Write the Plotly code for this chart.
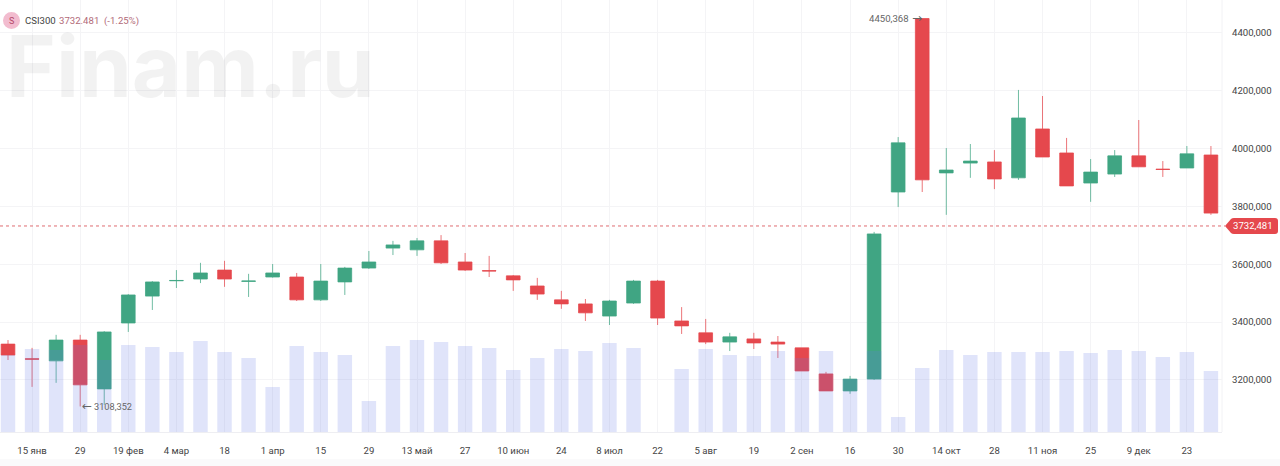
import plotly.graph_objects as go

weeks = ["2024-01-08","2024-01-15","2024-01-22","2024-01-29","2024-02-05","2024-02-19","2024-02-26","2024-03-04","2024-03-11","2024-03-18",
         "2024-03-25","2024-04-01","2024-04-08","2024-04-15","2024-04-22","2024-04-29","2024-05-06","2024-05-13","2024-05-20","2024-05-27",
         "2024-06-03","2024-06-10","2024-06-17","2024-06-24","2024-07-01","2024-07-08","2024-07-15","2024-07-22","2024-07-29","2024-08-05",
         "2024-08-12","2024-08-19","2024-08-26","2024-09-02","2024-09-09","2024-09-16","2024-09-23","2024-09-30","2024-10-07","2024-10-14",
         "2024-10-21","2024-10-28","2024-11-04","2024-11-11","2024-11-18","2024-11-25","2024-12-02","2024-12-09","2024-12-16","2024-12-23","2024-12-30"]
open_ = [3324,3273,3266,3338,3169,3397,3490,3543,3549,3580,3541,3556,3556,3477,3539,3587,3656,3650,3681,3608,3578,3560,3525,3477,3463,3421,3466,3542,3404,3363,
         3331,3342,3331,3311,3221,3162,3203,3850,4450,3916,3950,3954,3899,4068,3985,3881,3912,3975,3929,3933,3978]
high = [3338,3311,3356,3356,3369,3497,3542,3580,3605,3612,3567,3601,3570,3601,3591,3646,3681,3691,3701,3639,3629,3563,3553,3508,3480,3477,3546,3546,3452,3411,
        3363,3363,3352,3311,3228,3214,3712,4040,4450.368,4002,4016,3995,4203,4182,4037,3964,3995,4099,3957,4009,4009]
low = [3269,3176,3190,3108.352,3114,3366,3442,3518,3535,3522,3487,3554,3473,3473,3494,3584,3632,3629,3601,3577,3556,3508,3477,3446,3404,3390,3463,3390,3359,3324,
       3300,3307,3276,3231,3162,3152,3200,3798,3850,3771,3899,3860,3892,3971,3871,3816,3902,3937,3902,3933,3771]
close = [3286,3272,3338,3183,3366,3494,3539,3544,3570,3549,3542,3570,3477,3542,3587,3608,3667,3681,3605,3580,3577,3546,3497,3463,3432,3473,3542,3414,3387,3331,
         3349,3328,3324,3231,3162,3203,3705,4020,3892,3926,3957,3895,4106,3971,3871,3919,3975,3937,3928,3982,3777]
volume = [7.7,8.3,8.2,8.7,7.2,8.7,8.5,8.0,9.1,8.0,7.4,4.5,8.6,8.0,7.7,3.1,8.6,9.2,9.0,8.6,8.4,6.2,7.4,8.3,8.1,8.9,8.4,0,6.3,8.3,
          7.7,7.6,8.1,7.4,8.1,5.3,8.1,1.5,6.4,8.2,7.7,8.0,8.0,8.0,8.1,7.9,8.2,8.1,7.5,8.0,6.1]
tick_weeks = ["2024-01-15","2024-01-29","2024-02-19","2024-03-04","2024-03-18","2024-04-01","2024-04-15","2024-04-29","2024-05-13","2024-05-27",
              "2024-06-10","2024-06-24","2024-07-08","2024-07-22","2024-08-05","2024-08-19","2024-09-02","2024-09-16","2024-09-30","2024-10-14",
              "2024-10-28","2024-11-11","2024-11-25","2024-12-09","2024-12-23"]
tick_labels = ["15 янв","29","19 фев","4 мар","18","1 апр","15","29","13 май","27","10 июн","24","8 июл","22","5 авг","19","2 сен","16","30","14 окт","28","11 ноя","25","9 дек","23"]
price_ticks = [3200,3400,3600,3800,4000,4200,4400]
price_labels = ["3200,000","3400,000","3600,000","3800,000","4000,000","4200,000","4400,000"]
last_price = 3732.481

RED = "#e5484d"
GREEN = "#40a583"
RED_LINE = "rgba(229,72,77,0.75)"
GREEN_LINE = "rgba(64,165,131,0.75)"
FONT = "Roboto"
FS = 9.6
PW = 1222

fig = go.Figure()
fig.add_trace(go.Candlestick(
    x=weeks, open=open_, high=high, low=low, close=close,
    increasing=dict(line=dict(color=GREEN_LINE, width=1), fillcolor=GREEN),
    decreasing=dict(line=dict(color=RED_LINE, width=1), fillcolor=RED),
    whiskerwidth=0, showlegend=False, xaxis="x", yaxis="y"))
fig.add_trace(go.Bar(
    x=weeks, y=volume, marker=dict(color="rgba(100,120,230,0.2)", line=dict(width=0)),
    showlegend=False, xaxis="x", yaxis="y2"))

fig.update_layout(
    width=1280, height=466, autosize=False,
    margin=dict(l=0, r=58, t=0, b=34, pad=0),
    paper_bgcolor="white", plot_bgcolor="white",
    font=dict(family=FONT, size=FS, color="#444"),
    boxgap=0.43, boxgroupgap=0, bargap=0.4,
    showlegend=False,
    xaxis=dict(type="category", categoryorder="array", categoryarray=weeks,
               range=[-0.3325, 50.46], rangeslider=dict(visible=False),
               tickmode="array", tickvals=tick_weeks, ticktext=tick_labels,
               showgrid=True, gridcolor="#f4f4f6", gridwidth=1, zeroline=False,
               showline=True, linecolor="#eeeef2", ticks="", ticklen=0, ticklabelstandoff=9,
               tickfont=dict(size=FS, color="#444"), tickangle=0),
    yaxis=dict(range=[3020, 4514], side="right", tickmode="array",
               tickvals=price_ticks, ticktext=price_labels,
               showgrid=True, gridcolor="#f4f4f6", gridwidth=1, zeroline=False,
               ticklabelstandoff=9,
               tickfont=dict(size=FS, color="#444"), ticks="", fixedrange=True),
    yaxis2=dict(range=[0, 43.2], overlaying="y", side="left", visible=False, fixedrange=True),
)

px_y = lambda p: (432 - p) / 432

# bottom band and right edge of the plot
fig.add_shape(type="rect", xref="paper", yref="paper", x0=0, x1=1280/PW, y0=px_y(466), y1=px_y(459),
              fillcolor="#fafafb", line=dict(width=0), layer="below")
fig.add_shape(type="line", xref="paper", yref="paper", x0=1, x1=1, y0=0, y1=1,
              line=dict(color="#f2f2f5", width=1), layer="below")

fig.add_shape(type="line", xref="paper", x0=0, x1=1225/PW, yref="y", y0=last_price, y1=last_price,
              line=dict(color="#df6d72", width=1, dash="dot"), layer="above")
fig.add_shape(type="path", xref="paper", yref="y", xsizemode="pixel", ysizemode="pixel",
              xanchor=1225/PW, yanchor=last_price,
              path="M 0 0 L 6 -7 Q 7 -8 9 -8 L 50 -8 Q 53 -8 53 -5 L 53 5 Q 53 8 50 8 L 9 8 Q 7 8 6 7 Z",
              fillcolor=RED, line=dict(width=0), layer="above")
fig.add_annotation(xref="paper", x=1231/PW, yref="y", y=last_price, xanchor="left", yanchor="middle",
                   text="3732,481", showarrow=False, font=dict(size=FS, color="white", family=FONT))

# legend block
fig.add_shape(type="circle", xref="paper", yref="paper", x0=3/PW, x1=20/PW, y0=px_y(29), y1=px_y(12),
              fillcolor="#f2bccf", line=dict(width=0), layer="above")
fig.add_annotation(xref="paper", yref="paper", x=11.5/PW, y=px_y(20.5), text="S", showarrow=False,
                   xanchor="center", yanchor="middle", font=dict(size=9, color="#b5476b"))
fig.add_annotation(xref="paper", yref="paper", x=22.5/PW, y=px_y(20.5), text="CSI300", showarrow=False,
                   xanchor="left", yanchor="middle", font=dict(size=FS, color="#444"))
fig.add_annotation(xref="paper", yref="paper", x=57/PW, y=px_y(20.5), text="3732.481  (-1.25%)", showarrow=False,
                   xanchor="left", yanchor="middle", font=dict(size=FS, color="#b26a78"))

# watermark
fig.add_annotation(xref="paper", yref="paper", x=4/PW, y=px_y(66), text="<b>Finam.ru</b>", showarrow=False,
                   xanchor="left", yanchor="middle",
                   font=dict(size=85, color="rgba(0,0,0,0.05)", family="Inter"))

# extreme labels
fig.add_annotation(x=weeks[3], y=3108.352, text="3108,352", showarrow=False, xanchor="left", yanchor="middle",
                   xshift=12, font=dict(size=9.2, color="#666"))
fig.add_annotation(x=weeks[3], y=3108.352, text="←", showarrow=False, xanchor="left", yanchor="middle",
                   xshift=0, font=dict(size=12, color="#666", family="DejaVu Sans"))
fig.add_annotation(x=weeks[38], y=4450.368, text="4450,368", showarrow=False, xanchor="right", yanchor="middle",
                   xshift=-11, font=dict(size=FS, color="#666"))
fig.add_annotation(x=weeks[38], y=4450.368, text="→", showarrow=False, xanchor="right", yanchor="middle",
                   xshift=2, font=dict(size=12, color="#666", family="DejaVu Sans"))

fig.write_html("out.html", config=dict(displayModeBar=False), post_script="document.body.style.margin='0';")
